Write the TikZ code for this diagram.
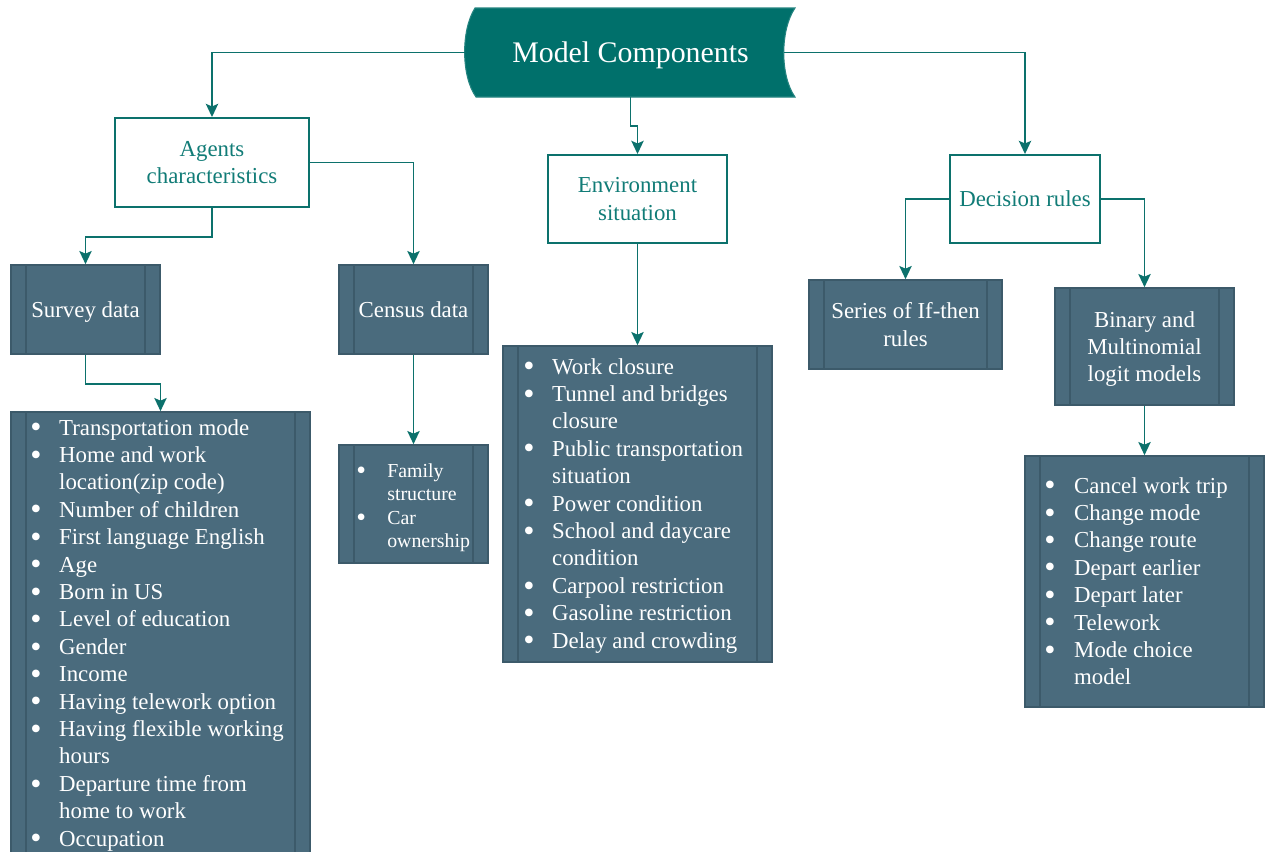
\documentclass[tikz,border=0pt]{standalone}
\usepackage{fontspec}
\setmainfont{Liberation Serif}
\usetikzlibrary{arrows.meta,calc}

\definecolor{tealfill}{HTML}{00706B}
\definecolor{tealline}{HTML}{0C716C}
\definecolor{tealtext}{HTML}{117C77}
\definecolor{slate}{HTML}{4A6B7D}
\definecolor{slateedge}{HTML}{3C5A6A}

% enlarged list bullet
\newcommand{\bigbul}{\raisebox{-0.12em}{\scalebox{1.4}{\textbullet}}}

\tikzset{
  conn/.style={draw=tealline, line width=1pt,
    -{Stealth[length=7.5pt,width=7pt,inset=1.5pt]}},
  size/.style 2 args={minimum width=#1*0.02cm, minimum height=#2*0.02cm},
  labelfont/.style={font=\fontsize{13}{15.6}\selectfont},
  whitebox/.style={draw=tealline, line width=1.1pt, fill=white, text=tealtext,
    align=center, inner sep=0pt, text depth=0pt, labelfont},
  procbox/.style={draw=slateedge, line width=0.9pt, fill=slate, text=white,
    align=center, inner sep=0pt, text depth=0pt, labelfont,
    path picture={
      \draw[slateedge, line width=1pt]
        ([xshift=0.3cm]path picture bounding box.north west) --
        ([xshift=0.3cm]path picture bounding box.south west)
        ([xshift=-0.3cm]path picture bounding box.north east) --
        ([xshift=-0.3cm]path picture bounding box.south east);}},
  listtext/.style={text=white, inner sep=0pt, anchor=base west, labelfont},
  smalllist/.style={text=white, inner sep=0pt, anchor=base west,
    font=\fontsize{11.3}{13.4}\selectfont},
}

\begin{document}
\begin{tikzpicture}[x=0.02cm,y=-0.02cm]
\clip (0,0) rectangle (1265,852);
\fill[white] (0,0) rectangle (1265,852);

% title shape: convex left side, concave right side
\filldraw[fill=tealfill, draw=tealfill!85!white, line width=0.6pt]
  (475,8) -- (795,8) .. controls (780,30) and (780,76) .. (795,97)
  -- (476,97) .. controls (461,76) and (461,30) .. (475,8) -- cycle;
\node[size={329}{89}, text=white, inner sep=0pt, text depth=0pt,
      font=\fontsize{17}{20}\selectfont] (mc) at (630.5,52.5) {Model Components};
\coordinate (mcr) at (784,52.5);

% second level
\node[whitebox, size={194}{89}] (ag) at (212,162.5) {Agents\\characteristics};
\node[whitebox, size={179}{88}] (env) at (637.5,199) {Environment\\situation};
\node[whitebox, size={150}{88}] (dec) at (1025,199) {Decision rules};

% data sources and decision models
\node[procbox, size={149}{89}] (sur) at (85.5,309.5) {Survey data};
\node[procbox, size={149}{89}] (cen) at (413.5,309.5) {Census data};
\node[procbox, size={193}{89}] (ift) at (905.5,324.5) {Series of If-then\\rules};
\node[procbox, size={179}{117}] (bin) at (1144.5,346.5) {Binary and\\Multinomial\\logit models};

% list boxes
\node[procbox, size={299}{458}] (surL) at (160.5,641) {};
\node[procbox, size={149}{118}] (cenL) at (413.5,504) {};
\node[procbox, size={269}{316}] (envL) at (637.5,504) {};
\node[procbox, size={239}{251}] (decL) at (1144.5,581.5) {};

\node[listtext] (surT) at (30,435) {\begin{tabular}[t]{@{}p{16.4pt}@{}l@{}}
\bigbul & Transportation mode\\
\bigbul & Home and work\\
 & location(zip code)\\
\bigbul & Number of children\\
\bigbul & First language English\\
\bigbul & Age\\
\bigbul & Born in US\\
\bigbul & Level of education\\
\bigbul & Gender\\
\bigbul & Income\\
\bigbul & Having telework option\\
\bigbul & Having flexible working\\
 & hours\\
\bigbul & Departure time from\\
 & home to work\\
\bigbul & Occupation
\end{tabular}};

\node[smalllist] (cenT) at (356,477) {\begin{tabular}[t]{@{}p{17.6pt}@{}l@{}}
\bigbul & Family\\
 & structure\\
\bigbul & Car\\
 & ownership
\end{tabular}};

\node[listtext] (envT) at (523,374) {\begin{tabular}[t]{@{}p{16.4pt}@{}l@{}}
\bigbul & Work closure\\
\bigbul & Tunnel and bridges\\
 & closure\\
\bigbul & Public transportation\\
 & situation\\
\bigbul & Power condition\\
\bigbul & School and daycare\\
 & condition\\
\bigbul & Carpool restriction\\
\bigbul & Gasoline restriction\\
\bigbul & Delay and crowding
\end{tabular}};

\node[listtext] (decT) at (1044,493) {\begin{tabular}[t]{@{}p{17pt}@{}l@{}}
\bigbul & Cancel work trip\\
\bigbul & Change mode\\
\bigbul & Change route\\
\bigbul & Depart earlier\\
\bigbul & Depart later\\
\bigbul & Telework\\
\bigbul & Mode choice\\
 & model
\end{tabular}};

% connectors
\draw[conn] (mc.west) -| (ag.north);
\draw[conn] (mcr) -| (dec.north);
\draw[conn] (mc.south) -- ++(0,29) -| (env.north);
\draw[conn] (ag.south) -- ++(0,29) -| (sur.north);
\draw[conn] (ag.east) -| (cen.north);
\draw[conn] (sur.south) -- ++(0,29) -| (surL.north);
\draw[conn] (cen.south) -- (cenL.north);
\draw[conn] (env.south) -- (envL.north);
\draw[conn] (dec.west) -| (ift.north);
\draw[conn] (dec.east) -| (bin.north);
\draw[conn] (bin.south) -- (decL.north);
\end{tikzpicture}
\end{document}
